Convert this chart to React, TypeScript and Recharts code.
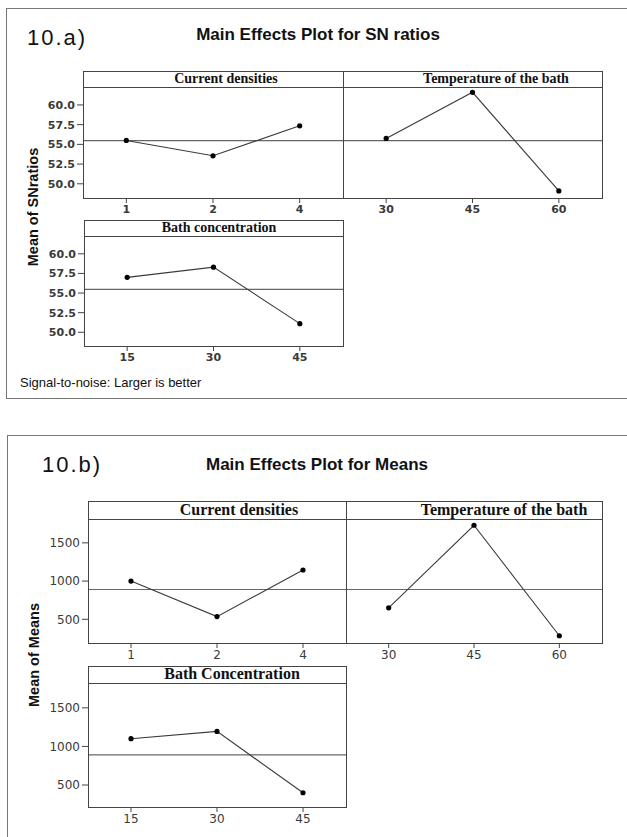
import React from "react";
import { LineChart, Line, XAxis, YAxis, ReferenceLine } from "recharts";

// factor levels
const currentLevels = ["1", "2", "4"];
const tempLevels = ["30", "45", "60"];
const bathLevels = ["15", "30", "45"];

// 10.a) mean of SN ratios
const snCurrent = [55.5, 53.55, 57.35];
const snTemp = [55.75, 61.6, 49.1];
const snBath = [57.0, 58.3, 51.1];
const snGrandMean = 55.47;
const snTicks = [50, 52.5, 55, 57.5, 60];

// 10.b) mean of means
const meanCurrent = [1000, 535, 1145];
const meanTemp = [650, 1730, 285];
const meanBath = [1100, 1195, 400];
const meanGrandMean = 890;
const meanTicks = [500, 1000, 1500];

const toRows = (levels: string[], values: number[]) =>
  levels.map((lvl, i) => ({ idx: i + 1, lvl, v: values[i] }));

const AXIS_W = 60;
const AXIS_H = 30;

type PanelProps = {
  left: number;
  top: number;
  width: number;
  headerH: number;
  plotH: number;
  title: string;
  titleX: number;
  titleSize: number;
  levels: string[];
  values: number[];
  mean: number;
  domain: [number, number];
  yTicks: number[];
  yFmt: (v: number) => string;
  showY: boolean;
  tickBold: boolean;
};

function Panel(p: PanelProps) {
  const rows = toRows(p.levels, p.values);
  const tickStyle = {
    fontFamily: "'DejaVu Sans', sans-serif",
    fontSize: p.tickBold ? 11 : 12,
    fontWeight: p.tickBold ? 700 : 400,
    fill: "#3a3a3a",
  };
  return (
    <>
      <div
        style={{
          position: "absolute",
          left: p.showY ? p.left - AXIS_W : p.left,
          top: p.top + p.headerH,
        }}
      >
        <LineChart
          width={p.width + (p.showY ? AXIS_W : 0)}
          height={p.plotH + AXIS_H}
          data={rows}
          margin={{ top: 0, right: 0, bottom: 0, left: 0 }}
        >
          <XAxis
            dataKey="idx"
            type="number"
            domain={[0.5, 3.5]}
            ticks={[1, 2, 3]}
            interval={0}
            allowDataOverflow
            height={AXIS_H}
            axisLine={false}
            tickSize={5}
            tickMargin={2}
            tickLine={{ stroke: "#444" }}
            tickFormatter={(v: number) => p.levels[v - 1] ?? ""}
            tick={tickStyle}
          />
          <YAxis
            hide={!p.showY}
            type="number"
            domain={p.domain}
            ticks={p.yTicks}
            allowDataOverflow
            width={AXIS_W}
            axisLine={false}
            tickSize={6}
            tickMargin={2}
            tickLine={{ stroke: "#444" }}
            tickFormatter={p.yFmt}
            tick={tickStyle}
          />
          <ReferenceLine y={p.mean} stroke="#666" strokeWidth={1.2} ifOverflow="extendDomain" />
          <Line
            dataKey="v"
            type="linear"
            stroke="#3a3a3a"
            strokeWidth={1.1}
            dot={{ r: 2.6, fill: "#000", stroke: "#000", strokeWidth: 0 }}
            isAnimationActive={false}
          />
        </LineChart>
      </div>
      <div
        style={{
          position: "absolute",
          left: p.left,
          top: p.top,
          width: p.width + 1,
          height: p.headerH + p.plotH + 1,
          border: "1px solid #444",
          boxSizing: "border-box",
          pointerEvents: "none",
        }}
      >
        <div style={{ height: p.headerH, borderBottom: "1px solid #444" }} />
      </div>
      <div
        style={{
          position: "absolute",
          left: p.titleX - 150,
          top: p.top,
          width: 300,
          height: p.headerH,
          lineHeight: `${p.headerH}px`,
          textAlign: "center",
          fontFamily: "'Liberation Serif', serif",
          fontWeight: 700,
          fontSize: p.titleSize,
          color: "#111",
        }}
      >
        {p.title}
      </div>
    </>
  );
}

const frameStyle: React.CSSProperties = {
  position: "absolute",
  border: "1.5px solid #777",
  boxSizing: "border-box",
};

const labelStyle: React.CSSProperties = {
  position: "absolute",
  width: 200,
  textAlign: "center",
  fontFamily: "'Liberation Sans', sans-serif",
  fontWeight: 700,
  fontSize: 14.5,
  color: "#111",
  transform: "rotate(-90deg)",
};

export default function App() {
  const snFmt = (v: number) => v.toFixed(1);
  const meanFmt = (v: number) => String(v);
  return (
    <div style={{ position: "absolute", left: 0, top: 0, width: 627, height: 837, background: "#fff", overflow: "hidden" }}>
      {/* 10.a) */}
      <div style={{ ...frameStyle, left: 6, top: 8, width: 630, height: 391 }} />
      <div style={{ position: "absolute", left: 27, top: 25, fontFamily: "'Liberation Sans', sans-serif", fontSize: 22, letterSpacing: 2, color: "#111" }}>
        10.a)
      </div>
      <div style={{ position: "absolute", left: 118, width: 400, top: 25, textAlign: "center", fontFamily: "'Liberation Sans', sans-serif", fontWeight: 700, fontSize: 17, color: "#111" }}>
        Main Effects Plot for SN ratios
      </div>
      <div style={{ ...labelStyle, left: 33 - 100, top: 207 - 9, height: 18, lineHeight: "18px" }}>Mean of SNratios</div>
      <Panel left={83} top={71} width={260} headerH={15} plotH={112} title="Current densities" titleX={226} titleSize={14}
        levels={currentLevels} values={snCurrent} mean={snGrandMean} domain={[48.2, 62.4]} yTicks={snTicks} yFmt={snFmt} showY tickBold />
      <Panel left={343} top={71} width={259} headerH={15} plotH={112} title="Temperature of the bath" titleX={496} titleSize={14}
        levels={tempLevels} values={snTemp} mean={snGrandMean} domain={[48.2, 62.4]} yTicks={snTicks} yFmt={snFmt} showY={false} tickBold />
      <Panel left={84} top={220} width={259} headerH={15} plotH={111} title="Bath concentration" titleX={219} titleSize={14}
        levels={bathLevels} values={snBath} mean={snGrandMean} domain={[48.25, 62.4]} yTicks={snTicks} yFmt={snFmt} showY tickBold />
      <div style={{ position: "absolute", left: 20, top: 375, fontFamily: "'Liberation Sans', sans-serif", fontSize: 13, color: "#111" }}>
        Signal-to-noise: Larger is better
      </div>

      {/* 10.b) */}
      <div style={{ ...frameStyle, left: 7, top: 435, width: 630, height: 410 }} />
      <div style={{ position: "absolute", left: 42, top: 452, fontFamily: "'Liberation Sans', sans-serif", fontSize: 22, letterSpacing: 2, color: "#111" }}>
        10.b)
      </div>
      <div style={{ position: "absolute", left: 117, width: 400, top: 455, textAlign: "center", fontFamily: "'Liberation Sans', sans-serif", fontWeight: 700, fontSize: 17, color: "#111" }}>
        Main Effects Plot for Means
      </div>
      <div style={{ ...labelStyle, left: 34 - 100, top: 655 - 9, height: 18, lineHeight: "18px" }}>Mean of Means</div>
      <Panel left={88} top={501} width={258} headerH={17} plotH={125} title="Current densities" titleX={239} titleSize={16}
        levels={currentLevels} values={meanCurrent} mean={meanGrandMean} domain={[190, 1825]} yTicks={meanTicks} yFmt={meanFmt} showY tickBold={false} />
      <Panel left={346} top={501} width={256} headerH={17} plotH={125} title="Temperature of the bath" titleX={504} titleSize={16}
        levels={tempLevels} values={meanTemp} mean={meanGrandMean} domain={[190, 1825]} yTicks={meanTicks} yFmt={meanFmt} showY={false} tickBold={false} />
      <Panel left={88} top={666} width={258} headerH={16} plotH={125} title="Bath Concentration" titleX={232} titleSize={16}
        levels={bathLevels} values={meanBath} mean={meanGrandMean} domain={[215, 1835]} yTicks={meanTicks} yFmt={meanFmt} showY tickBold={false} />
    </div>
  );
}
